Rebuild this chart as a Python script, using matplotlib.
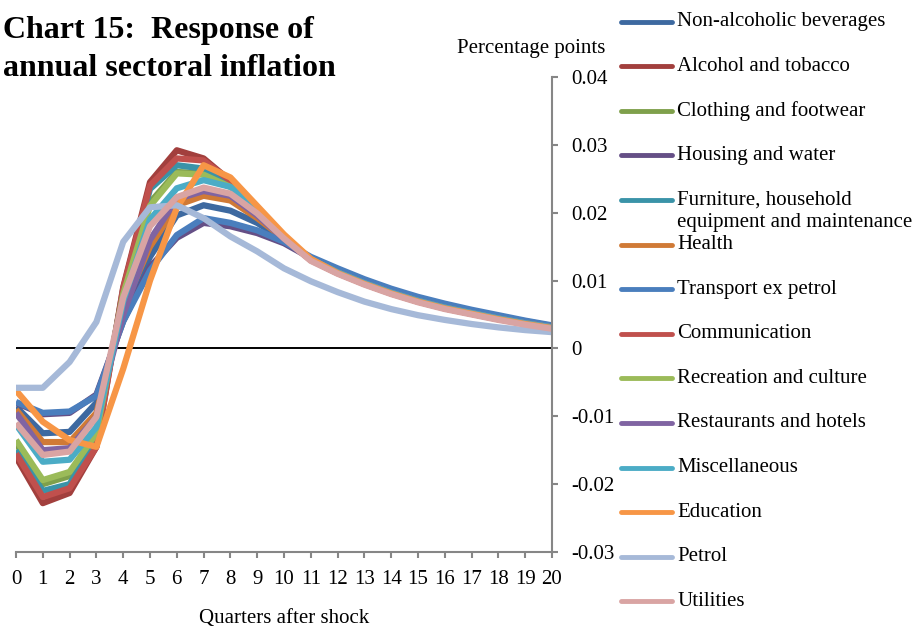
import matplotlib
matplotlib.use("Agg")
import matplotlib.pyplot as plt
from matplotlib.lines import Line2D

plt.rcParams['font.family'] = ['Liberation Serif', 'DejaVu Serif']

# Quarters after the shock
quarters = list(range(21))

# Impulse responses by sector (percentage points)
non_alcoholic = [-0.0086, -0.0125, -0.0123, -0.0080, 0.0050, 0.0135, 0.0196, 0.0211, 0.0203, 0.0185,
                 0.0160, 0.0132, 0.0114, 0.0098, 0.0084, 0.0072, 0.0062, 0.0053, 0.0045, 0.0038, 0.0032]
alcohol = [-0.0160, -0.0228, -0.0213, -0.0145, 0.0090, 0.0245, 0.0292, 0.0280, 0.0247, 0.0205,
           0.0163, 0.0130, 0.0111, 0.0095, 0.0081, 0.0069, 0.0059, 0.0051, 0.0043, 0.0037, 0.0031]
clothing = [-0.0140, -0.0200, -0.0188, -0.0125, 0.0082, 0.0215, 0.0260, 0.0258, 0.0240, 0.0207,
            0.0165, 0.0131, 0.0112, 0.0096, 0.0082, 0.0070, 0.0060, 0.0052, 0.0044, 0.0037, 0.0031]
housing = [-0.0080, -0.0097, -0.0095, -0.0068, 0.0040, 0.0120, 0.0163, 0.0185, 0.0180, 0.0170,
           0.0155, 0.0133, 0.0116, 0.0100, 0.0086, 0.0074, 0.0064, 0.0055, 0.0047, 0.0040, 0.0033]
furniture = [-0.0150, -0.0210, -0.0200, -0.0135, 0.0085, 0.0235, 0.0270, 0.0265, 0.0240, 0.0206,
             0.0164, 0.0131, 0.0112, 0.0096, 0.0082, 0.0070, 0.0060, 0.0052, 0.0044, 0.0037, 0.0031]
health = [-0.0090, -0.0138, -0.0138, -0.0095, 0.0060, 0.0150, 0.0211, 0.0225, 0.0218, 0.0192,
          0.0162, 0.0131, 0.0112, 0.0096, 0.0082, 0.0070, 0.0060, 0.0052, 0.0044, 0.0037, 0.0031]
transport = [-0.0079, -0.0095, -0.0093, -0.0070, 0.0040, 0.0115, 0.0167, 0.0192, 0.0185, 0.0174,
             0.0157, 0.0135, 0.0118, 0.0102, 0.0088, 0.0076, 0.0066, 0.0057, 0.0049, 0.0041, 0.0034]
communication = [-0.0155, -0.0219, -0.0206, -0.0145, 0.0088, 0.0240, 0.0280, 0.0277, 0.0247, 0.0205,
                 0.0163, 0.0130, 0.0111, 0.0095, 0.0081, 0.0069, 0.0059, 0.0051, 0.0043, 0.0037, 0.0031]
recreation = [-0.0135, -0.0194, -0.0182, -0.0125, 0.0080, 0.0210, 0.0258, 0.0256, 0.0238, 0.0206,
              0.0165, 0.0131, 0.0112, 0.0096, 0.0082, 0.0070, 0.0060, 0.0052, 0.0044, 0.0037, 0.0031]
restaurants = [-0.0095, -0.0150, -0.0147, -0.0101, 0.0050, 0.0160, 0.0220, 0.0232, 0.0225, 0.0196,
               0.0162, 0.0131, 0.0112, 0.0096, 0.0082, 0.0070, 0.0060, 0.0052, 0.0044, 0.0037, 0.0031]
miscellaneous = [-0.0112, -0.0167, -0.0164, -0.0116, 0.0070, 0.0190, 0.0236, 0.0248, 0.0238, 0.0205,
                 0.0164, 0.0131, 0.0112, 0.0096, 0.0082, 0.0070, 0.0060, 0.0052, 0.0044, 0.0037, 0.0031]
education = [-0.0062, -0.0108, -0.0135, -0.0145, -0.0030, 0.0100, 0.0207, 0.0270, 0.0252, 0.0210,
             0.0168, 0.0132, 0.0111, 0.0095, 0.0081, 0.0069, 0.0059, 0.0051, 0.0043, 0.0036, 0.0030]
petrol = [-0.0058, -0.0058, -0.0020, 0.0039, 0.0157, 0.0208, 0.0211, 0.0192, 0.0165, 0.0143,
          0.0118, 0.0099, 0.0083, 0.0069, 0.0058, 0.0049, 0.0042, 0.0036, 0.0031, 0.0027, 0.0024]
utilities = [-0.0110, -0.0157, -0.0152, -0.0101, 0.0075, 0.0180, 0.0223, 0.0237, 0.0228, 0.0199,
             0.0162, 0.0129, 0.0110, 0.0094, 0.0080, 0.0068, 0.0058, 0.0050, 0.0042, 0.0035, 0.0029]

sector_names = ["Non-alcoholic beverages", "Alcohol and tobacco", "Clothing and footwear",
                "Housing and water", "Furniture, household\nequipment and maintenance", "Health",
                "Transport ex petrol", "Communication", "Recreation and culture",
                "Restaurants and hotels", "Miscellaneous", "Education", "Petrol", "Utilities"]
sector_values = [non_alcoholic, alcohol, clothing, housing, furniture, health, transport,
                 communication, recreation, restaurants, miscellaneous, education, petrol, utilities]
sector_colors = ["#3D69A0", "#A23F3D", "#7FA04B", "#654F86", "#3A93A8", "#D07A36",
                 "#4A7EBD", "#C0504D", "#9BBB59", "#8064A2", "#4BACC6", "#F79646",
                 "#A6B9D8", "#D9A4A3"]

W, H = 918, 628
fig = plt.figure(figsize=(W / 100, H / 100), dpi=100)
ax = fig.add_axes([16 / W, 1 - 552 / H, (552 - 16) / W, (552 - 77) / H])

ax.axhline(0, color="black", lw=1.4, zorder=1)
for vals, col in zip(sector_values, sector_colors):
    ax.plot(quarters, vals, color=col, lw=4.5, solid_joinstyle="round",
            solid_capstyle="butt", zorder=2)

ax.set_xlim(0, 20)
ax.set_ylim(-0.03, 0.04)
ax.set_xticks(quarters)
ax.set_xticklabels([str(q) for q in quarters])
ax.set_yticks([-0.03, -0.02, -0.01, 0, 0.01, 0.02, 0.03, 0.04])
ax.set_yticklabels(["-0.03", "-0.02", "-0.01", "0", "0.01", "0.02", "0.03", "0.04"])

axis_grey = "#868686"
for side in ("left", "top"):
    ax.spines[side].set_visible(False)
for side in ("right", "bottom"):
    ax.spines[side].set_color(axis_grey)
    ax.spines[side].set_linewidth(1.5)
ax.yaxis.tick_right()
ax.tick_params(axis="y", direction="out", length=4, width=1.5, color=axis_grey,
               labelsize=15, pad=10)
ax.tick_params(axis="x", direction="out", length=4, width=1.5, color=axis_grey,
               labelsize=15, pad=9)
ax.set_xlabel("Quarters after shock", fontsize=15, labelpad=14)

fig.text(605 / W, 1 - 48 / H, "Percentage points", fontsize=15, ha="right", va="center")
fig.text(3 / W, 1 - 38 / H, "Chart 15:  Response of", fontsize=23, fontweight="bold",
         ha="left", va="baseline")
fig.text(3 / W, 1 - 76 / H, "annual sectoral inflation", fontsize=23, fontweight="bold",
         ha="left", va="baseline")

# Legend entries on the right, evenly stepped; long labels overflow downwards
row_top, row_step = 21.5, 44.6
for i, (name, col) in enumerate(zip(sector_names, sector_colors)):
    y = 1 - (row_top + i * row_step) / H
    fig.add_artist(Line2D([621 / W, 672 / W], [y, y], color=col, lw=3.5,
                          solid_capstyle="round", transform=fig.transFigure))
    first, *rest = name.split("\n")
    fig.text(677 / W, y, first, fontsize=15, ha="left", va="center")
    for j, extra in enumerate(rest, start=1):
        fig.text(677 / W, y - j * 23 / H, extra, fontsize=15, ha="left", va="center")

fig.savefig("out.png", dpi=100)
